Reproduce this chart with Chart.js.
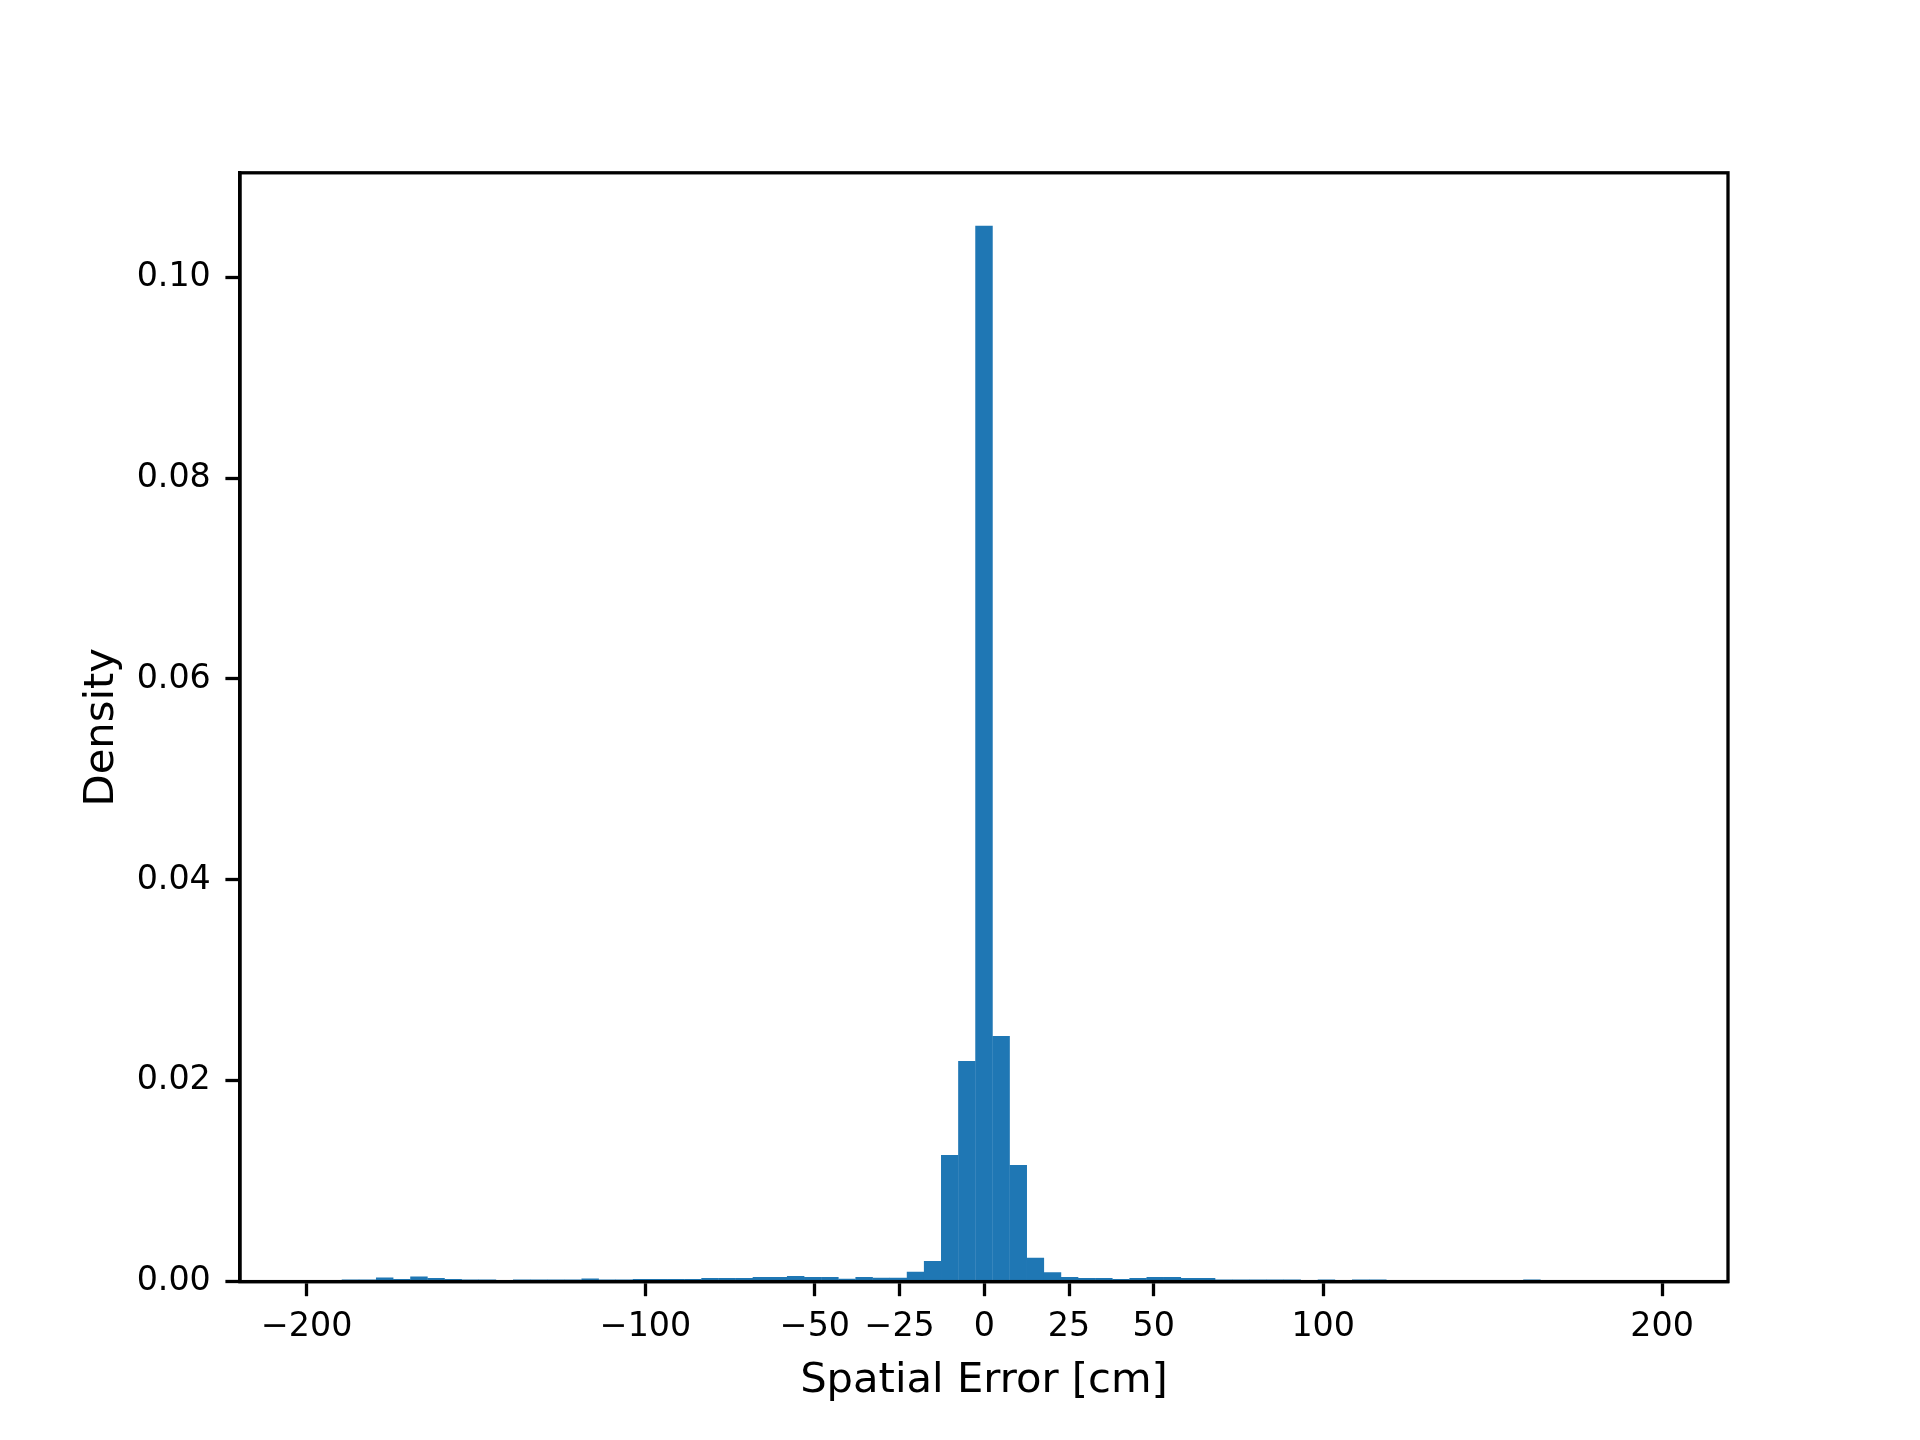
<!DOCTYPE html>
<html lang="en">
<head>
    <meta charset="UTF-8">
    <title>Spatial Error Density</title>
    <script src="https://cdn.jsdelivr.net/npm/chart.js@4.4.1/dist/chart.umd.min.js"></script>
    <style>
        html, body { margin: 0; padding: 0; background: #fff; }
        #chart { display: block; }
    </style>
</head>
<body>
    <canvas id="chart" width="1920" height="1440"></canvas>
    <script>
        // histogram bin centres [cm], 79 bins of ~5.05 cm
        const binCenters = [
            -197.17, -192.12, -187.07, -182.01, -176.96, -171.91, -166.85, -161.80, -156.75, -151.69,
            -146.64, -141.59, -136.53, -131.48, -126.43, -121.37, -116.32, -111.27, -106.22, -101.16,
            -96.11, -91.06, -86.00, -80.95, -75.90, -70.84, -65.79, -60.74, -55.68, -50.63,
            -45.58, -40.53, -35.47, -30.42, -25.37, -20.31, -15.26, -10.21, -5.15, -0.10,
            4.95, 10.01, 15.06, 20.11, 25.16, 30.22, 35.27, 40.32, 45.38, 50.43,
            55.48, 60.54, 65.59, 70.64, 75.70, 80.75, 85.80, 90.85, 95.91, 100.96,
            106.01, 111.07, 116.12, 121.17, 126.23, 131.28, 136.33, 141.39, 146.44, 151.49,
            156.54, 161.60, 166.65, 171.70, 176.76, 181.81, 186.86, 191.92, 196.97
        ];
        const density = [
            0, 0, 0.0002, 0.0002, 0.0004, 0.00025, 0.0005, 0.00037, 0.00027, 0.0002,
            0.0002, 0, 0.0002, 0.0002, 0.0002, 0.0002, 0.0003, 0.0002, 0.0002, 0.00025,
            0.00025, 0.00025, 0.00025, 0.00036, 0.00036, 0.00036, 0.00047, 0.00047, 0.00057, 0.00047,
            0.00047, 0.00029, 0.00047, 0.00039, 0.00039, 0.00097, 0.00206, 0.01261, 0.02197, 0.10514,
            0.02446, 0.01161, 0.00238, 0.00094, 0.00046, 0.00036, 0.00036, 0.00026, 0.00036, 0.00046,
            0.00046, 0.00036, 0.00036, 0.0002, 0.0002, 0.0002, 0.0002, 0.0002, 0, 0.0002,
            0, 0.0002, 0.0002, 0, 0, 0, 0, 0, 0, 0,
            0, 0.0002, 0, 0, 0, 0, 0, 0, 0
        ];
        const xTicks = [-200, -100, -50, -25, 0, 25, 50, 100, 200];
        const yTicks = [0, 0.02, 0.04, 0.06, 0.08, 0.10];
        const xRange = [-219.66, 219.46];
        const yMax = 0.1104;

        const tickFont = { family: 'DejaVu Sans', size: 33.3, lineHeight: 1 };
        const titleFont = { family: 'DejaVu Sans', size: 41.7, lineHeight: 1 };

        // matplotlib-style closed frame, drawn over the bars
        const frame = {
            id: 'frame',
            afterDatasetsDraw(chart) {
                const { ctx, chartArea: a } = chart;
                ctx.save();
                ctx.strokeStyle = '#000';
                ctx.lineWidth = 3.3;
                ctx.strokeRect(a.left, a.top, a.right - a.left, a.bottom - a.top);
                ctx.restore();
            }
        };

        new Chart(document.getElementById('chart'), {
            type: 'bar',
            data: {
                datasets: [{
                    data: binCenters.map((x, i) => ({ x: x, y: density[i] })),
                    backgroundColor: '#1f77b4',
                    borderWidth: 0,
                    barPercentage: 1.02,
                    categoryPercentage: 1
                }]
            },
            options: {
                responsive: false,
                animation: false,
                devicePixelRatio: 1,
                layout: { padding: { top: 172.8, right: 192, bottom: 0, left: 0 } },
                plugins: { legend: { display: false }, tooltip: { enabled: false } },
                scales: {
                    x: {
                        type: 'linear',
                        min: xRange[0],
                        max: xRange[1],
                        offset: false,
                        afterBuildTicks: (scale) => { scale.ticks = xTicks.map(v => ({ value: v })); },
                        afterFit: (scale) => { scale.height = 158.4; },
                        grid: { offset: false, drawOnChartArea: false, tickLength: 14.6, tickWidth: 3.3, tickColor: '#000' },
                        border: { display: true, color: '#000', width: 3.3 },
                        ticks: {
                            autoSkip: false,
                            maxRotation: 0,
                            padding: 14.5,
                            color: '#000',
                            font: tickFont,
                            callback: (v) => (v < 0 ? '\u2212' + Math.abs(v) : String(v))
                        },
                        title: {
                            display: true,
                            text: 'Spatial Error [cm]',
                            color: '#000',
                            font: titleFont,
                            padding: { top: 0, bottom: 38 }
                        }
                    },
                    y: {
                        type: 'linear',
                        min: 0,
                        max: yMax,
                        afterBuildTicks: (scale) => { scale.ticks = yTicks.map(v => ({ value: v })); },
                        afterFit: (scale) => { scale.width = 240; },
                        grid: { drawOnChartArea: false, tickLength: 14.6, tickWidth: 3.3, tickColor: '#000' },
                        border: { display: true, color: '#000', width: 3.3 },
                        ticks: {
                            padding: 14.6,
                            color: '#000',
                            font: tickFont,
                            callback: (v) => v.toFixed(2)
                        },
                        title: {
                            display: true,
                            text: 'Density',
                            color: '#000',
                            font: titleFont,
                            padding: { top: 81, bottom: 0 }
                        }
                    }
                }
            },
            plugins: [frame]
        });
    </script>
</body>
</html>
